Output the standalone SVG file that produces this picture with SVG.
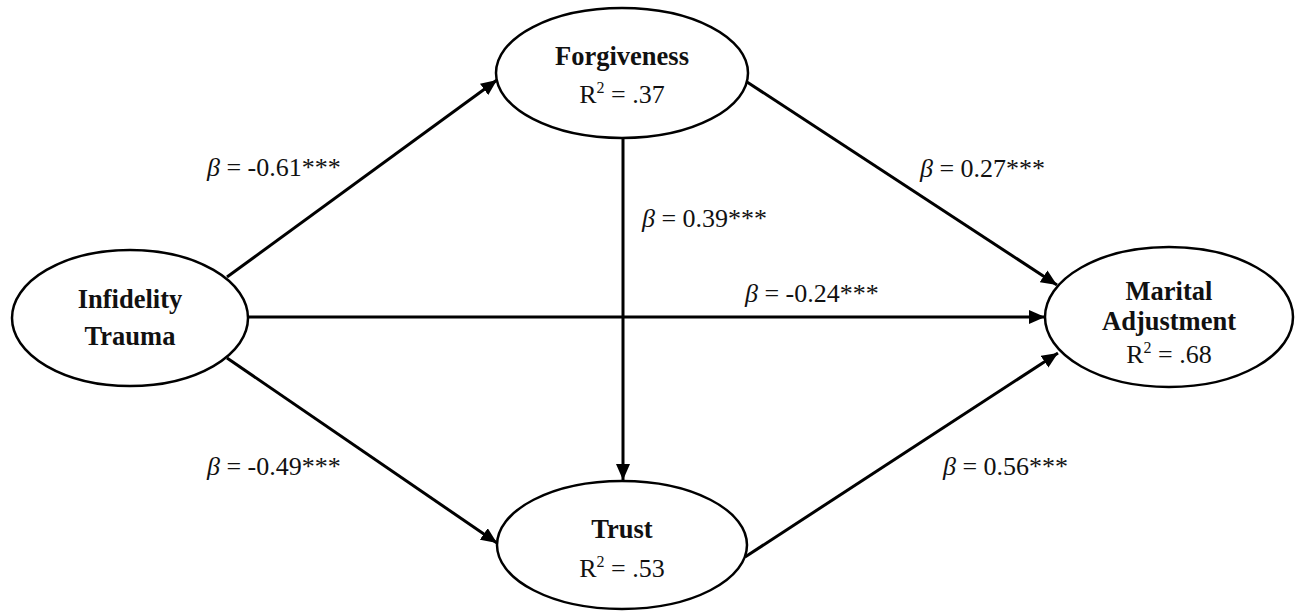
<svg xmlns="http://www.w3.org/2000/svg" width="1295" height="613" viewBox="0 0 1295 613">
<style>
.node{fill:#fff;stroke:#000;stroke-width:2.5}
.t{font-family:"Liberation Serif","Times New Roman",serif;font-size:26px;fill:#111;text-anchor:middle}
.b{font-weight:bold;font-size:26.5px}
.lab{font-family:"Liberation Serif","Times New Roman",serif;font-size:26px;fill:#111}
.edge{stroke:#000;stroke-width:3;fill:none;marker-end:url(#ah)}
</style>
<defs>
<marker id="ah" markerWidth="16" markerHeight="14" refX="16" refY="7" orient="auto" markerUnits="userSpaceOnUse">
<path d="M0,0 L16,7 L0,14 Z" fill="#000"/>
</marker>
</defs>
<rect width="1295" height="613" fill="#fff"/>
<g id="connectors">
<line class="edge" x1="227" y1="277" x2="497" y2="80"/>
<line class="edge" x1="248" y1="317" x2="1045" y2="317"/>
<line class="edge" x1="227" y1="358" x2="497" y2="543"/>
<line class="edge" x1="623" y1="138" x2="623" y2="480"/>
<line class="edge" x1="747" y1="82" x2="1057" y2="285"/>
<line class="edge" x1="745" y1="557" x2="1058" y2="353"/>
</g>
<g id="labels">
<text class="lab" x="207" y="176"><tspan font-style="italic">β</tspan> = -0.61***</text>
<text class="lab" x="642" y="227"><tspan font-style="italic">β</tspan> = 0.39***</text>
<text class="lab" x="920" y="177"><tspan font-style="italic">β</tspan> = 0.27***</text>
<text class="lab" x="745" y="302"><tspan font-style="italic">β</tspan> = -0.24***</text>
<text class="lab" x="207" y="475"><tspan font-style="italic">β</tspan> = -0.49***</text>
<text class="lab" x="943" y="475"><tspan font-style="italic">β</tspan> = 0.56***</text>
</g>
<g id="infidelity">
<ellipse class="node" cx="130" cy="318" rx="118" ry="68"/>
<text class="t b" x="130" y="308">Infidelity</text>
<text class="t b" x="130" y="345">Trauma</text>
</g>
<g id="forgiveness">
<ellipse class="node" cx="622" cy="73" rx="126" ry="65"/>
<text class="t b" x="622" y="65">Forgiveness</text>
<text class="t" x="622" y="103">R<tspan font-size="16" dy="-10">2</tspan><tspan dy="10"> = .37</tspan></text>
</g>
<g id="trust">
<ellipse class="node" cx="622" cy="545" rx="125" ry="64"/>
<text class="t b" x="622" y="538">Trust</text>
<text class="t" x="622" y="577">R<tspan font-size="16" dy="-10">2</tspan><tspan dy="10"> = .53</tspan></text>
</g>
<g id="marital">
<ellipse class="node" cx="1169" cy="317" rx="124" ry="70"/>
<text class="t b" x="1169" y="300">Marital</text>
<text class="t b" x="1169" y="330">Adjustment</text>
<text class="t" x="1169" y="363">R<tspan font-size="16" dy="-10">2</tspan><tspan dy="10"> = .68</tspan></text>
</g>
</svg>
